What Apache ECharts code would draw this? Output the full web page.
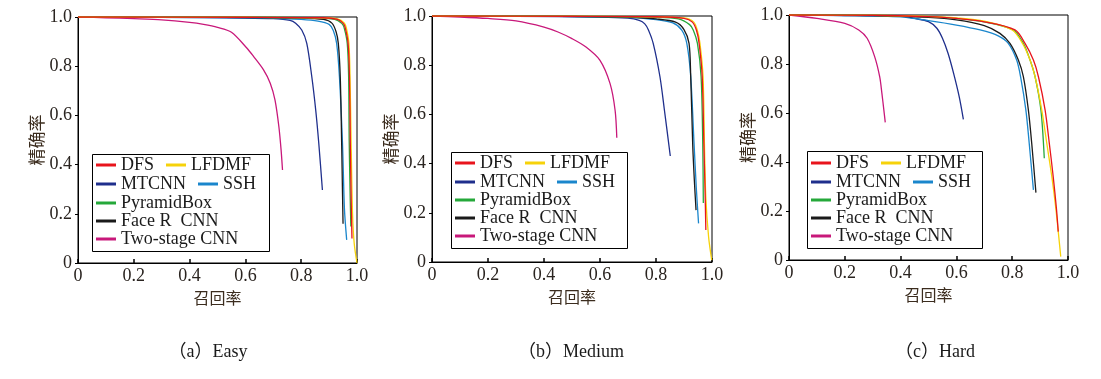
<!DOCTYPE html>
<html><head><meta charset="utf-8">
<script src="https://cdn.jsdelivr.net/npm/echarts@6/dist/echarts.min.js"></script>
<style>html,body{margin:0;padding:0;background:#fff}#c{width:1101px;height:379px}</style>
</head><body><div id="c"></div>
<script>
// ---- data: [recall, precision] pairs ----
const methods = ['DFS','LFDMF','MTCNN','SSH','PyramidBox','Face R  CNN','Two-stage CNN'];
const panelCaptions = ['（a）Easy','（b）Medium','（c）Hard'];
const xAxisName = '召回率';
const yAxisName = '精确率';

// Easy
const dfsEasy = [[0,1],[0.6,0.999],[0.88,0.997],[0.93,0.99],[0.95,0.975],[0.957,0.96],[0.968,0.893],[0.973,0.757],[0.976,0.487],[0.98,0.2],[0.982,0.1]];
const lfdmfEasy = [[0,1],[0.6,0.999],[0.88,0.997],[0.93,0.992],[0.955,0.975],[0.962,0.955],[0.971,0.893],[0.975,0.757],[0.979,0.487],[0.984,0.2],[0.99,0.08],[1.0,0]];
const mtcnnEasy = [[0,1],[0.3,0.999],[0.6,0.996],[0.7,0.993],[0.76,0.986],[0.78,0.975],[0.802,0.947],[0.82,0.893],[0.838,0.757],[0.852,0.622],[0.863,0.487],[0.876,0.297]];
const sshEasy = [[0,1],[0.5,0.998],[0.7,0.995],[0.8,0.99],[0.86,0.983],[0.9,0.97],[0.915,0.945],[0.927,0.893],[0.937,0.757],[0.948,0.487],[0.955,0.22],[0.963,0.094]];
const pyrEasy = [[0,1],[0.6,0.999],[0.85,0.997],[0.92,0.99],[0.945,0.975],[0.953,0.96],[0.965,0.893],[0.97,0.757],[0.972,0.5],[0.975,0.3],[0.978,0.148]];
const faceEasy = [[0,1],[0.5,0.999],[0.8,0.996],[0.88,0.99],[0.91,0.975],[0.925,0.94],[0.933,0.893],[0.94,0.757],[0.945,0.487],[0.948,0.285],[0.95,0.16]];
const twoEasy = [[0,1],[0.1,0.997],[0.2,0.993],[0.3,0.988],[0.4,0.978],[0.45,0.97],[0.5,0.958],[0.55,0.938],[0.605,0.874],[0.629,0.84],[0.665,0.785],[0.689,0.731],[0.706,0.663],[0.72,0.554],[0.728,0.459],[0.733,0.378]];

// Medium
const dfsMed = [[0,1],[0.5,0.999],[0.8,0.997],[0.9,0.99],[0.93,0.975],[0.945,0.94],[0.954,0.889],[0.965,0.754],[0.971,0.48],[0.975,0.3],[0.978,0.13]];
const lfdmfMed = [[0,1],[0.5,0.999],[0.8,0.997],[0.9,0.992],[0.935,0.975],[0.948,0.94],[0.957,0.889],[0.968,0.754],[0.973,0.48],[0.978,0.26],[0.988,0.1],[0.999,0.008]];
const mtcnnMed = [[0,1],[0.3,0.999],[0.6,0.996],[0.7,0.991],[0.74,0.982],[0.76,0.968],[0.773,0.943],[0.79,0.889],[0.814,0.754],[0.83,0.618],[0.851,0.431]];
const sshMed = [[0,1],[0.4,0.999],[0.7,0.995],[0.8,0.985],[0.86,0.972],[0.892,0.943],[0.91,0.889],[0.924,0.754],[0.936,0.48],[0.944,0.3],[0.952,0.157]];
const pyrMed = [[0,1],[0.5,0.999],[0.8,0.995],[0.88,0.988],[0.92,0.965],[0.933,0.943],[0.948,0.889],[0.961,0.754],[0.967,0.48],[0.969,0.24]];
const faceMed = [[0,1],[0.4,0.999],[0.7,0.996],[0.8,0.988],[0.87,0.975],[0.9,0.945],[0.918,0.889],[0.924,0.754],[0.931,0.48],[0.937,0.33],[0.943,0.211]];
const twoMed = [[0,1],[0.1,0.996],[0.2,0.99],[0.3,0.98],[0.4,0.955],[0.45,0.935],[0.5,0.908],[0.55,0.874],[0.6,0.82],[0.636,0.725],[0.654,0.616],[0.66,0.505]];

// Hard
const dfsHard = [[0,1],[0.3,0.999],[0.5,0.993],[0.6,0.986],[0.7,0.972],[0.81,0.939],[0.846,0.884],[0.876,0.816],[0.894,0.748],[0.918,0.612],[0.933,0.476],[0.947,0.34],[0.959,0.204],[0.965,0.116]];
const lfdmfHard = [[0,1],[0.3,0.999],[0.5,0.994],[0.6,0.988],[0.7,0.975],[0.8,0.939],[0.837,0.884],[0.864,0.816],[0.882,0.748],[0.906,0.612],[0.924,0.476],[0.942,0.34],[0.957,0.204],[0.974,0.014]];
const mtcnnHard = [[0,1],[0.2,0.998],[0.4,0.995],[0.45,0.986],[0.5,0.973],[0.53,0.946],[0.55,0.905],[0.57,0.844],[0.59,0.762],[0.61,0.667],[0.625,0.574]];
const sshHard = [[0,1],[0.2,0.998],[0.4,0.992],[0.5,0.977],[0.6,0.959],[0.685,0.939],[0.75,0.915],[0.786,0.884],[0.816,0.816],[0.83,0.748],[0.849,0.612],[0.861,0.476],[0.876,0.286]];
const pyrHard = [[0,1],[0.3,0.999],[0.5,0.993],[0.6,0.986],[0.7,0.972],[0.804,0.939],[0.84,0.884],[0.864,0.816],[0.882,0.748],[0.903,0.612],[0.915,0.415]];
const faceHard = [[0,1],[0.3,0.998],[0.5,0.99],[0.6,0.98],[0.7,0.957],[0.756,0.925],[0.792,0.884],[0.822,0.816],[0.84,0.748],[0.858,0.612],[0.87,0.476],[0.885,0.275]];
const twoHard = [[0,1],[0.1,0.986],[0.2,0.966],[0.25,0.939],[0.28,0.905],[0.307,0.83],[0.325,0.748],[0.333,0.68],[0.34,0.612],[0.345,0.562]];

const panelData = [
  [dfsEasy, lfdmfEasy, mtcnnEasy, sshEasy, pyrEasy, faceEasy, twoEasy],
  [dfsMed, lfdmfMed, mtcnnMed, sshMed, pyrMed, faceMed, twoMed],
  [dfsHard, lfdmfHard, mtcnnHard, sshHard, pyrHard, faceHard, twoHard]
];

// ---- styling ----
const colors = ['#e8141c','#f6d20a','#1f2f8c','#1a86cc','#25a83a','#1a1a1a','#c8187a'];
const drawOrder = [6,2,3,5,4,1,0];
const grids = [
  {left:78, top:17, width:279, height:246},
  {left:432, top:16, width:280, height:246},
  {left:789, top:15, width:279, height:245}
];
const legendBoxes = [
  {x:92, y:154, w:177, h:97, ix:96, rows:[165,184,203,221,240]},
  {x:451, y:152, w:176, h:96, ix:455, rows:[163,182,200,218,237]},
  {x:807, y:151, w:175, h:97, ix:811, rows:[163,182,200,218,237]}
];
const captionX = [203, 566, 930];
const txtColor = '#2a2420';
const serif = '"Liberation Serif","Times New Roman",serif';
const cjk = '"Noto Sans CJK SC",sans-serif';

const option = {
  animation:false,
  backgroundColor:'#fff',
  grid: grids.map(g=>Object.assign({show:true, borderColor:'#000', borderWidth:1, backgroundColor:'transparent'}, g)),
  xAxis: grids.map((g,i)=>({
    type:'value', gridIndex:i, min:0, max:1, interval:0.2,
    name:xAxisName, nameLocation:'middle', nameGap:26,
    nameTextStyle:{fontFamily:cjk, fontSize:16, color:'#3b2c1e', verticalAlign:'top'},
    axisLine:{lineStyle:{color:'#000', width:1}},
    axisTick:{inside:true, length:4, lineStyle:{color:'#000', width:1.5}},
    axisLabel:{margin:4, fontFamily:serif, fontSize:18, color:txtColor, formatter:v=>v===0?'0':v.toFixed(1)},
    splitLine:{show:false}
  })),
  yAxis: grids.map((g,i)=>({
    type:'value', gridIndex:i, min:0, max:1, interval:0.2,
    name:yAxisName, nameLocation:'middle', nameGap:33, nameRotate:90,
    nameTextStyle:{fontFamily:cjk, fontSize:17, color:'#3b2c1e'},
    axisLine:{lineStyle:{color:'#000', width:1}},
    axisTick:{inside:false, length:3, lineStyle:{color:'#000'}},
    axisLabel:{margin:6, fontFamily:serif, fontSize:18, color:txtColor, formatter:v=>v===0?'0':v.toFixed(1)},
    splitLine:{show:false}
  })),
  legend: [],
  series: [],
  title: panelCaptions.map((t,i)=>({
    text:t, left:captionX[i], top:338, textAlign:'center',
    textStyle:{fontFamily:serif+',"Noto Sans CJK SC"', fontSize:18, fontWeight:'normal', color:'#1a1a1a'}
  })),
  graphic: legendBoxes.map(b=>({
    type:'rect', shape:{x:b.x+0.5, y:b.y+0.5, width:b.w, height:b.h},
    style:{fill:'#fff', stroke:'#000', lineWidth:1}, z:5
  }))
};

const legendCommon = {
  icon:'rect', itemWidth:20, itemHeight:3, itemGap:12, padding:0, z:10,
  textStyle:{fontFamily:serif, fontSize:18, color:'#1a1a1a', lineHeight:18}, selectedMode:false
};
legendBoxes.forEach(b=>{
  option.legend.push(Object.assign({}, legendCommon, {orient:'horizontal', left:b.ix, top:b.rows[0]-9, data:[methods[0],methods[1]]}));
  option.legend.push(Object.assign({}, legendCommon, {orient:'horizontal', left:b.ix, top:b.rows[1]-9, data:[methods[2],methods[3]]}));
  option.legend.push(Object.assign({}, legendCommon, {orient:'vertical', left:b.ix, top:b.rows[2]-9, itemGap:b.rows[3]-b.rows[2]-18, data:[methods[4],methods[5],methods[6]]}));
});

panelData.forEach((arrs,p)=>{
  drawOrder.forEach(k=>{
    option.series.push({
      type:'line', name:methods[k], xAxisIndex:p, yAxisIndex:p,
      data:arrs[k], showSymbol:false, symbol:'none', smooth:0.3,
      color:colors[k], lineStyle:{color:colors[k], width:1.3}, z:2
    });
  });
});

const chart = echarts.init(document.getElementById('c'), null, {renderer:'canvas'});
chart.setOption(option);
</script>
</body></html>
